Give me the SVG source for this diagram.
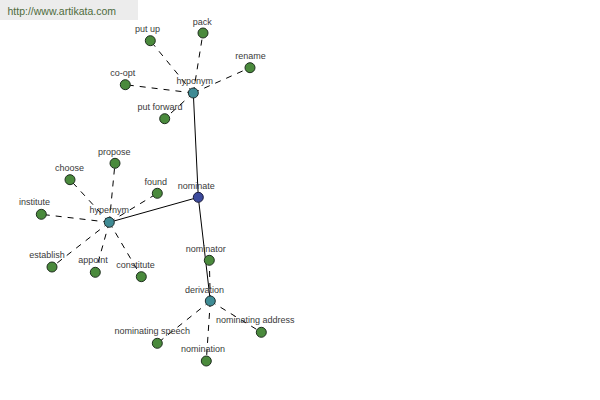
<svg xmlns="http://www.w3.org/2000/svg" width="600" height="400" viewBox="0 0 600 400">
<style>
.bg{fill:#ffffff}
.hdr{fill:#ececec}
.url{font-family:"Liberation Sans",Arial,sans-serif;font-size:10.5px;fill:#4e6b3c}
.lbl{font-family:"Liberation Sans",Arial,sans-serif;font-size:9px;fill:#3a3a3a;text-anchor:middle}
.solid{stroke:#000;stroke-width:1;fill:none}
.dash{stroke:#000;stroke-width:1;fill:none;stroke-dasharray:6,6}
.leaf{fill:#4a8a3c;stroke:#1e2e1e;stroke-width:1}
.hub{fill:#3f8b94;stroke:#1e2e2e;stroke-width:1}
.root{fill:#3c4a9c;stroke:#1a1a3a;stroke-width:1}
</style>
<rect class="bg" x="0" y="0" width="600" height="400"/>
<rect class="hdr" x="0" y="0" width="138" height="20"/>
<text class="url" x="7.5" y="14.5">http://www.artikata.com</text>
<g id="connectors">
<line class="solid" x1="198.3" y1="197.3" x2="193.3" y2="93"/>
<line class="solid" x1="198.3" y1="197.3" x2="109.3" y2="222.3"/>
<line class="solid" x1="198.3" y1="197.3" x2="210.3" y2="301"/>
<line class="dash" x1="193.3" y1="93" x2="150.3" y2="40.7"/>
<line class="dash" x1="193.3" y1="93" x2="203" y2="33"/>
<line class="dash" x1="193.3" y1="93" x2="250" y2="67.7"/>
<line class="dash" x1="193.3" y1="93" x2="125.3" y2="84.7"/>
<line class="dash" x1="193.3" y1="93" x2="164.7" y2="118.7"/>
<line class="dash" x1="109.3" y1="222.3" x2="115" y2="163.3"/>
<line class="dash" x1="109.3" y1="222.3" x2="70" y2="179.7"/>
<line class="dash" x1="109.3" y1="222.3" x2="157.3" y2="193.3"/>
<line class="dash" x1="109.3" y1="222.3" x2="41.3" y2="214.3"/>
<line class="dash" x1="109.3" y1="222.3" x2="52" y2="267"/>
<line class="dash" x1="109.3" y1="222.3" x2="95.3" y2="272.3"/>
<line class="dash" x1="109.3" y1="222.3" x2="141.3" y2="276.7"/>
<line class="dash" x1="210.3" y1="301" x2="209.3" y2="260.3"/>
<line class="dash" x1="210.3" y1="301" x2="157.3" y2="343.3"/>
<line class="dash" x1="210.3" y1="301" x2="206.3" y2="361"/>
<line class="dash" x1="210.3" y1="301" x2="261.3" y2="332.3"/>
</g>
<g id="node-nominate"><circle class="root" cx="198.3" cy="197.3" r="5"/><text class="lbl" x="196.3" y="188.7">nominate</text></g>
<g id="node-hyponym"><circle class="hub" cx="193.3" cy="93" r="5"/><text class="lbl" x="194.7" y="84.3">hyponym</text></g>
<g id="node-hypernym"><circle class="hub" cx="109.3" cy="222.3" r="5"/><text class="lbl" x="109.2" y="213.3">hypernym</text></g>
<g id="node-derivation"><circle class="hub" cx="210.3" cy="301" r="5"/><text class="lbl" x="204.5" y="292.7">derivation</text></g>
<g id="node-put-up"><circle class="leaf" cx="150.3" cy="40.7" r="5"/><text class="lbl" x="147.5" y="31.7">put up</text></g>
<g id="node-pack"><circle class="leaf" cx="203" cy="33" r="5"/><text class="lbl" x="202.3" y="24.5">pack</text></g>
<g id="node-rename"><circle class="leaf" cx="250" cy="67.7" r="5"/><text class="lbl" x="250.5" y="59.2">rename</text></g>
<g id="node-co-opt"><circle class="leaf" cx="125.3" cy="84.7" r="5"/><text class="lbl" x="122.8" y="75.7">co-opt</text></g>
<g id="node-put-forward"><circle class="leaf" cx="164.7" cy="118.7" r="5"/><text class="lbl" x="160" y="110.2">put forward</text></g>
<g id="node-propose"><circle class="leaf" cx="115" cy="163.3" r="5"/><text class="lbl" x="114.2" y="155.3">propose</text></g>
<g id="node-choose"><circle class="leaf" cx="70" cy="179.7" r="5"/><text class="lbl" x="69.5" y="170.7">choose</text></g>
<g id="node-found"><circle class="leaf" cx="157.3" cy="193.3" r="5"/><text class="lbl" x="155.8" y="184.7">found</text></g>
<g id="node-institute"><circle class="leaf" cx="41.3" cy="214.3" r="5"/><text class="lbl" x="34.5" y="205.3">institute</text></g>
<g id="node-establish"><circle class="leaf" cx="52" cy="267" r="5"/><text class="lbl" x="47" y="258.3">establish</text></g>
<g id="node-appoint"><circle class="leaf" cx="95.3" cy="272.3" r="5"/><text class="lbl" x="93" y="262.7">appoint</text></g>
<g id="node-constitute"><circle class="leaf" cx="141.3" cy="276.7" r="5"/><text class="lbl" x="135.5" y="268.3">constitute</text></g>
<g id="node-nominator"><circle class="leaf" cx="209.3" cy="260.3" r="5"/><text class="lbl" x="205.8" y="251.7">nominator</text></g>
<g id="node-nominating-speech"><circle class="leaf" cx="157.3" cy="343.3" r="5"/><text class="lbl" x="152.3" y="333.5">nominating speech</text></g>
<g id="node-nomination"><circle class="leaf" cx="206.3" cy="361" r="5"/><text class="lbl" x="203.1" y="352.3">nomination</text></g>
<g id="node-nominating-address"><circle class="leaf" cx="261.3" cy="332.3" r="5"/><text class="lbl" x="255.3" y="323.3">nominating address</text></g>
</svg>
